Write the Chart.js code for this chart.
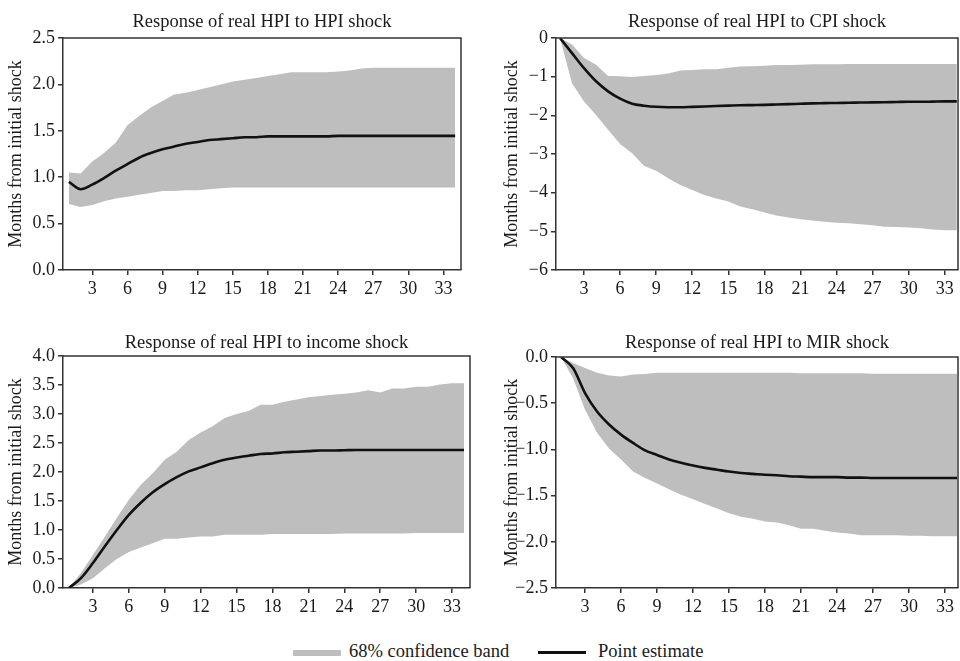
<!DOCTYPE html>
<html>
<head>
<meta charset="utf-8">
<script src="https://cdn.jsdelivr.net/npm/chart.js@4.4.0/dist/chart.umd.min.js"></script>
<style>
  body { margin: 0; background: #fff; width: 960px; height: 661px; overflow: hidden; position: relative;
         font-family: "Liberation Serif", "Times New Roman", serif; color: #1a1a1a; }
  canvas { position: absolute; }
  .lg { position: absolute; font-size: 18.5px; line-height: 22px; top: 639.5px; white-space: nowrap; }
  .swatch { position: absolute; }
</style>
</head>
<body>
<canvas id="c1" width="480" height="310" style="left:0;top:0"></canvas>
<canvas id="c2" width="480" height="310" style="left:480px;top:0"></canvas>
<canvas id="c3" width="480" height="300" style="left:0;top:320px"></canvas>
<canvas id="c4" width="480" height="300" style="left:480px;top:320px"></canvas>

<div class="swatch" style="left:293px;top:650px;width:48px;height:6px;background:#bebebe"></div>
<div class="lg" style="left:349px">68% confidence band</div>
<div class="swatch" style="left:538px;top:651px;width:48px;height:2.5px;background:#111"></div>
<div class="lg" style="left:598px">Point estimate</div>

<script>
// horizon (months after the shock)
const months = [1,2,3,4,5,6,7,8,9,10,11,12,13,14,15,16,17,18,19,20,21,22,23,24,25,26,27,28,29,30,31,32,33,34];
const xTicks = [3,6,9,12,15,18,21,24,27,30,33];

// HPI shock
const hpiPoint = [0.95,0.87,0.92,0.99,1.07,1.14,1.21,1.26,1.30,1.33,1.36,1.38,1.40,1.41,1.42,1.43,1.43,1.44,1.44,1.44,1.44,1.44,1.44,1.445,1.445,1.445,1.445,1.445,1.445,1.445,1.445,1.445,1.445,1.445];
const hpiUpper = [1.05,1.04,1.17,1.26,1.37,1.56,1.66,1.75,1.82,1.89,1.91,1.94,1.97,2.00,2.03,2.05,2.07,2.09,2.11,2.13,2.13,2.13,2.13,2.14,2.15,2.17,2.18,2.18,2.18,2.18,2.18,2.18,2.18,2.18];
const hpiLower = [0.71,0.68,0.70,0.74,0.77,0.79,0.81,0.83,0.85,0.85,0.86,0.86,0.87,0.88,0.89,0.89,0.89,0.89,0.89,0.89,0.89,0.89,0.89,0.89,0.89,0.89,0.89,0.89,0.89,0.89,0.89,0.89,0.89,0.89];

// CPI shock
const cpiPoint = [0,-0.39,-0.78,-1.12,-1.38,-1.57,-1.70,-1.75,-1.78,-1.79,-1.79,-1.78,-1.77,-1.76,-1.75,-1.74,-1.735,-1.73,-1.72,-1.71,-1.70,-1.69,-1.685,-1.68,-1.675,-1.67,-1.665,-1.66,-1.655,-1.65,-1.65,-1.645,-1.64,-1.64];
const cpiUpper = [0,-0.17,-0.52,-0.69,-0.98,-0.99,-1.01,-0.98,-0.96,-0.92,-0.84,-0.83,-0.81,-0.81,-0.77,-0.74,-0.73,-0.72,-0.70,-0.70,-0.69,-0.68,-0.68,-0.68,-0.67,-0.67,-0.67,-0.67,-0.67,-0.67,-0.67,-0.67,-0.67,-0.67];
const cpiLower = [0,-1.17,-1.64,-1.99,-2.37,-2.74,-2.98,-3.31,-3.43,-3.63,-3.80,-3.93,-4.06,-4.15,-4.23,-4.36,-4.43,-4.51,-4.59,-4.64,-4.69,-4.72,-4.75,-4.78,-4.79,-4.82,-4.84,-4.88,-4.89,-4.90,-4.92,-4.95,-4.97,-4.97];

// income shock
const incPoint = [0,0.17,0.43,0.72,1.00,1.26,1.47,1.65,1.79,1.91,2.01,2.08,2.15,2.21,2.25,2.28,2.31,2.32,2.34,2.35,2.36,2.37,2.37,2.375,2.38,2.38,2.38,2.38,2.38,2.38,2.38,2.38,2.38,2.38];
const incUpper = [0,0.26,0.57,0.89,1.21,1.52,1.78,1.98,2.21,2.35,2.55,2.68,2.79,2.93,3.00,3.05,3.16,3.16,3.21,3.25,3.29,3.31,3.33,3.35,3.37,3.41,3.37,3.44,3.44,3.47,3.47,3.51,3.53,3.53];
const incLower = [0,0.06,0.17,0.34,0.50,0.62,0.70,0.77,0.85,0.85,0.87,0.89,0.89,0.92,0.92,0.92,0.92,0.93,0.93,0.93,0.93,0.93,0.93,0.94,0.94,0.94,0.94,0.94,0.94,0.95,0.95,0.95,0.95,0.95];

// MIR shock
const mirPoint = [0,-0.12,-0.39,-0.59,-0.73,-0.84,-0.93,-1.01,-1.06,-1.11,-1.145,-1.175,-1.20,-1.22,-1.24,-1.255,-1.265,-1.275,-1.28,-1.29,-1.295,-1.30,-1.30,-1.30,-1.305,-1.305,-1.31,-1.31,-1.31,-1.31,-1.31,-1.31,-1.31,-1.31];
const mirUpper = [0,-0.065,-0.12,-0.17,-0.20,-0.21,-0.19,-0.185,-0.17,-0.17,-0.17,-0.17,-0.17,-0.17,-0.17,-0.17,-0.17,-0.17,-0.17,-0.17,-0.175,-0.175,-0.175,-0.175,-0.175,-0.175,-0.18,-0.18,-0.18,-0.18,-0.18,-0.18,-0.18,-0.18];
const mirLower = [0,-0.23,-0.57,-0.82,-0.99,-1.11,-1.24,-1.31,-1.37,-1.43,-1.49,-1.54,-1.59,-1.64,-1.69,-1.73,-1.75,-1.78,-1.79,-1.82,-1.86,-1.86,-1.88,-1.90,-1.91,-1.93,-1.93,-1.93,-1.93,-1.935,-1.935,-1.94,-1.94,-1.94];

const FONT = '"Liberation Serif", "Times New Roman", serif';
const INK = '#1a1a1a';
const AXIS = '#333';
const BAND = '#bebebe';

// draws the top and right sides of the plot frame
const frame = {
  id: 'frame',
  afterDatasetsDraw(chart) {
    const a = chart.chartArea, ctx = chart.ctx;
    ctx.save();
    ctx.strokeStyle = AXIS;
    ctx.lineWidth = 1.5;
    ctx.beginPath();
    ctx.moveTo(a.left, a.top);
    ctx.lineTo(a.right, a.top);
    ctx.lineTo(a.right, a.bottom);
    ctx.stroke();
    ctx.restore();
  }
};

function minus(s) { return s.replace('-', '\u2212'); }

function panel(id, title, lower, upper, point, y, box) {
  const pts = arr => arr.map((v, i) => ({ x: months[i], y: v }));
  return new Chart(document.getElementById(id), {
    type: 'line',
    data: {
      // first dataset is painted last, so the point estimate sits on top of the band
      datasets: [
        { data: pts(point), borderColor: '#111', borderWidth: 2.6, pointRadius: 0, fill: false,
          cubicInterpolationMode: 'monotone' },
        { data: pts(upper), borderWidth: 0, pointRadius: 0, fill: '+1', backgroundColor: BAND },
        { data: pts(lower), borderWidth: 0, pointRadius: 0, fill: false }
      ]
    },
    options: {
      responsive: false,
      animation: false,
      events: [],
      layout: { padding: { left: 0, right: box.right, top: 0, bottom: 0 } },
      plugins: {
        legend: { display: false },
        tooltip: { enabled: false },
        title: {
          display: true, text: title, fullSize: false, color: INK,
          font: { family: FONT, size: 18.5, weight: 'normal' },
          padding: { top: box.tTop, bottom: box.tBottom }
        }
      },
      scales: {
        x: {
          type: 'linear', min: box.xMin, max: box.xMax,
          afterBuildTicks: s => { s.ticks = xTicks.map(v => ({ value: v })); },
          afterFit: s => { s.height = box.xh; },
          grid: { drawOnChartArea: false, tickLength: 5, color: AXIS, lineWidth: 1.5 },
          border: { color: AXIS, width: 1.5 },
          ticks: { color: INK, padding: 3, maxRotation: 0, font: { family: FONT, size: 18 } }
        },
        y: {
          min: y.min, max: y.max,
          afterBuildTicks: s => { s.ticks = y.ticks.map(v => ({ value: v })); },
          afterFit: s => { s.width = box.yw; },
          grid: { drawOnChartArea: false, tickLength: 5, color: AXIS, lineWidth: 1.5 },
          border: { color: AXIS, width: 1.5 },
          ticks: { color: INK, padding: 3, font: { family: FONT, size: 18 },
                   callback: v => minus(v.toFixed(y.dec)) },
          title: { display: true, text: 'Months from initial shock', color: INK,
                   font: { family: FONT, size: 18 }, padding: { top: box.yt, bottom: 0 } }
        }
      }
    },
    plugins: [frame]
  });
}

panel('c1', 'Response of real HPI to HPI shock', hpiLower, hpiUpper, hpiPoint,
  { min: 0, max: 2.5, ticks: [0, 0.5, 1, 1.5, 2, 2.5], dec: 1 },
  { right: 19, yw: 63, xh: 40, tTop: 11, tBottom: 4.8, xMin: 0.5, xMax: 34.5, yt: 5 });

panel('c2', 'Response of real HPI to CPI shock', cpiLower, cpiUpper, cpiPoint,
  { min: -6, max: 0, ticks: [-6, -5, -4, -3, -2, -1, 0], dec: 0 },
  { right: 2, yw: 76, xh: 40, tTop: 11, tBottom: 4.8, xMin: 0.67, xMax: 34.1, yt: 21 });

panel('c3', 'Response of real HPI to income shock', incLower, incUpper, incPoint,
  { min: 0, max: 4, ticks: [0, 0.5, 1, 1.5, 2, 2.5, 3, 3.5, 4], dec: 1 },
  { right: 10, yw: 63, xh: 32, tTop: 12, tBottom: 1.8, xMin: 0.5, xMax: 34.5, yt: 5 });

panel('c4', 'Response of real HPI to MIR shock', mirLower, mirUpper, mirPoint,
  { min: -2.5, max: 0, ticks: [-2.5, -2, -1.5, -1, -0.5, 0], dec: 1 },
  { right: 2, yw: 76, xh: 32, tTop: 12, tBottom: 2.8, xMin: 0.58, xMax: 34.08, yt: 21 });
</script>
</body>
</html>
